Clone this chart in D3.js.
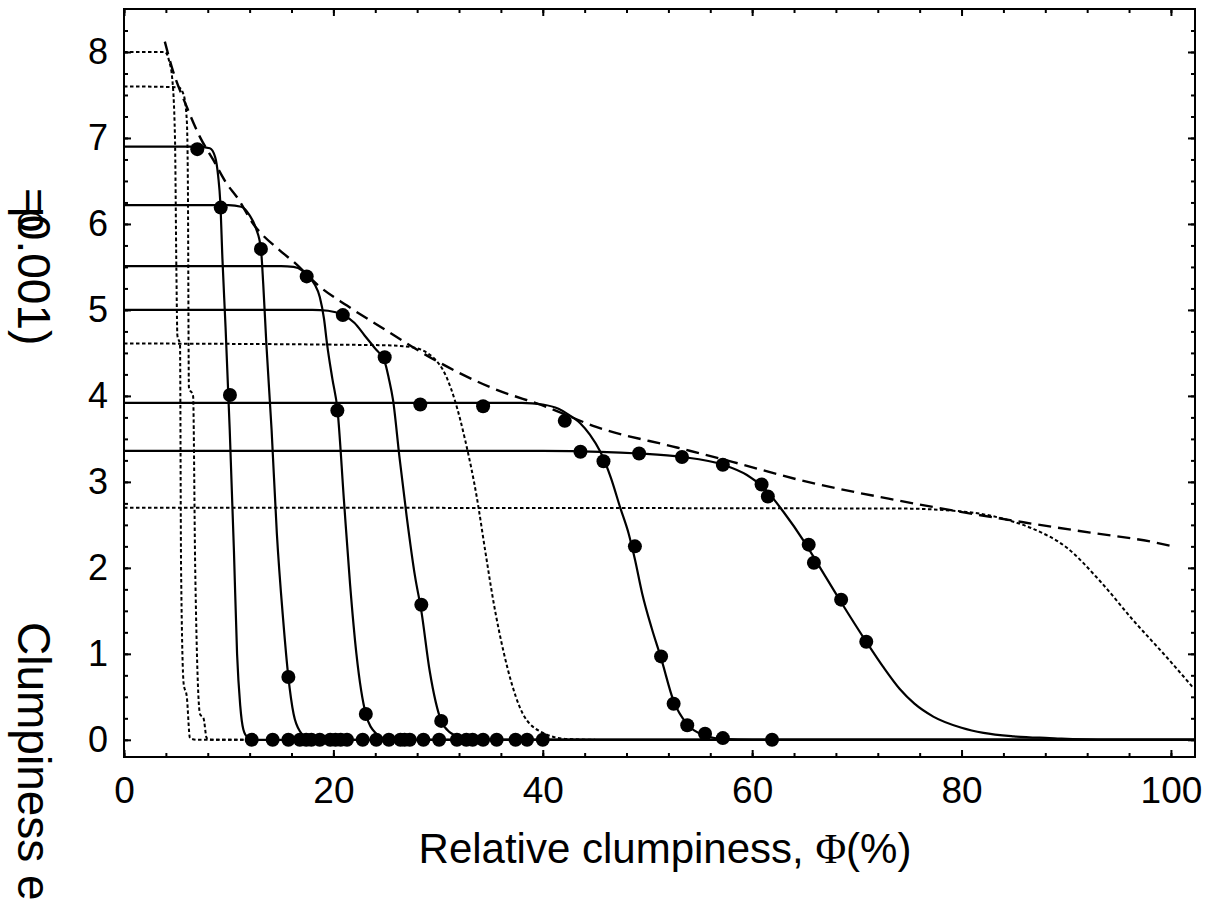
<!DOCTYPE html>
<html><head><meta charset="utf-8">
<script src="https://cdn.jsdelivr.net/npm/d3@7"></script>
<style>body{margin:0;background:#fff}</style>
</head><body>
<svg id="c" width="1220" height="905"></svg>
<script>
// ---------- data ----------
const xTickLabels = [0, 20, 40, 60, 80, 100];
const yTickLabels = [0, 1, 2, 3, 4, 5, 6, 7, 8];

// solid fitted curves
const fit1 = [[0,6.9],[7,6.9],[8.2,6.88],[8.7,6.78],[9.0,6.55],[9.2,6.25],[9.4,5.6],[9.7,4.8],[10.1,3.6],[10.5,2.2],[10.8,1.0],[11.1,0.4],[11.4,0.12],[11.8,0.03],[12.5,0],[102.3,0]];
const fit2 = [[0,6.22],[10,6.22],[11.2,6.2],[12.0,6.1],[12.6,5.95],[13.08,5.71],[13.3,5.3],[13.6,4.6],[14.1,3.6],[14.6,2.4],[15.2,1.4],[15.7,0.73],[16.2,0.3],[16.8,0.1],[17.6,0.02],[18.5,0],[102.3,0]];
const fit3 = [[0,5.51],[15,5.51],[16.2,5.5],[17.0,5.46],[17.5,5.4],[18.2,5.3],[18.7,5.15],[19.1,4.9],[19.4,4.6],[19.9,4.2],[20.4,3.83],[21.0,2.8],[21.6,1.8],[22.2,1.0],[23.1,0.3],[24.1,0.07],[25,0.01],[26,0],[102.3,0]];
const fit4 = [[0,5.0],[18,5.0],[19.5,4.99],[20.9,4.94],[22.0,4.85],[23,4.7],[24,4.55],[24.9,4.4],[25.3,4.2],[25.7,3.95],[26.3,3.3],[27.0,2.6],[27.8,1.9],[28.4,1.5],[29.2,0.8],[30.3,0.22],[31.2,0.08],[32.1,0.03],[33.5,0],[102.3,0]];
const fit5 = [[0,3.92],[38,3.92],[40,3.9],[41.5,3.85],[42.5,3.78],[43.6,3.68],[44.5,3.55],[45.5,3.35],[46.5,3.05],[47.4,2.7],[48.2,2.4],[48.8,2.1],[49.5,1.7],[50.4,1.3],[51.3,0.95],[52.5,0.45],[53.8,0.18],[55.5,0.05],[57.2,0.01],[60,0],[102.3,0]];
const fit6 = [[0,3.36],[40,3.36],[45.5,3.35],[49.2,3.33],[53.3,3.29],[57.2,3.2],[59.5,3.08],[61.2,2.92],[63,2.65],[65,2.3],[66.5,2.0],[68.5,1.6],[70.9,1.14],[72.5,0.85],[74.1,0.59],[75.5,0.42],[77.3,0.27],[80,0.14],[82.1,0.08],[85,0.04],[88.4,0.02],[93,0],[102.3,0]];

// dotted curves
const dotA = [[0,8.0],[3.9,8.0],[4.3,7.9],[4.6,7.7],[4.87,7.0],[5.0,5.5],[5.1,4.7],[5.35,4.6],[5.45,2.0],[5.7,0.65],[6.0,0.5],[6.3,0.02],[7,0],[12,0]];
const dotB = [[0,7.6],[5.2,7.59],[5.7,7.5],[6.0,7.2],[6.1,6.5],[6.2,4.1],[6.6,4.0],[6.8,2.0],[7.26,0.3],[7.6,0.25],[7.9,0.02],[8.5,0],[12,0]];
const dotC = [[0,4.61],[24.5,4.59],[27.3,4.57],[29.5,4.45],[30.8,4.22],[31.6,3.95],[32.6,3.48],[33.7,2.82],[34.5,2.2],[35.3,1.6],[36.3,1.0],[37.8,0.38],[39.7,0.1],[42.3,0.01],[45,0]];
const dotD = [[0,2.7],[74.1,2.69],[80.5,2.65],[84.6,2.55],[86.9,2.45],[90,2.24],[93.2,1.85],[96.4,1.39],[99.6,0.96],[102.1,0.61]];

// dashed envelope
const envelope = [[3.9,8.12],[4.55,7.83],[6.0,7.36],[7.26,7.01],[8.5,6.75],[9.8,6.47],[10.8,6.31],[12.35,6.0],[14.9,5.69],[16.2,5.56],[18.7,5.27],[21.3,5.05],[24.8,4.78],[29.5,4.43],[35,4.1],[40.4,3.87],[45.1,3.64],[52.8,3.4],[58.2,3.23],[64.6,3.02],[74.1,2.78],[85.9,2.53],[92.3,2.41],[98.3,2.3],[100.2,2.25]];

// observed points
const pointsX = [7.0,9.24,10.12,13.08,15.7,17.45,20.38,23.1,20.9,24.9,28.4,30.3,28.3,34.3,42.1,48.8,51.3,52.5,53.8,55.5,57.2,43.6,45.8,49.2,53.3,57.2,60.9,61.5,65.4,65.9,68.5,70.9];
const pointsY = [6.87,6.19,4.01,5.71,0.73,5.39,3.83,0.3,4.94,4.45,1.57,0.22,3.9,3.88,3.71,2.25,0.97,0.42,0.17,0.07,0.02,3.35,3.24,3.33,3.29,3.2,2.97,2.83,2.27,2.06,1.63,1.14];
const zeroPointsX = [12.2,14.2,15.7,16.8,17.4,17.9,18.7,19.7,20.2,20.7,21.3,22.8,24.1,25.3,26.4,26.8,27.3,28.6,30.1,31.8,32.7,33.3,34.3,35.6,37.4,38.5,40.0,61.9];

// ---------- drawing ----------
const svg = d3.select("#c");
const L = 124, R = 1195, T = 9, B = 757;
const x = d3.scaleLinear().domain([0, 102.3]).range([L, R]);
const y = d3.scaleLinear().domain([-0.2, 8.5]).range([B, T]);
const FONT = "Liberation Sans, Arial, sans-serif";

svg.append("defs").append("clipPath").attr("id","clip")
  .append("rect").attr("x",L).attr("y",T).attr("width",R-L).attr("height",B-T);

const g = svg.append("g").attr("clip-path","url(#clip)");
const line = d3.line().x(d=>x(d[0])).y(d=>y(d[1])).curve(d3.curveMonotoneX);

[dotA, dotB, dotC, dotD].forEach(s => g.append("path").attr("d", line(s))
  .attr("fill","none").attr("stroke","#000").attr("stroke-width",2).attr("stroke-dasharray","3.5,2.5"));
[fit1, fit2, fit3, fit4, fit5, fit6].forEach(s => g.append("path").attr("d", line(s))
  .attr("fill","none").attr("stroke","#000").attr("stroke-width",2.2));
g.append("path").attr("d", line(envelope)).attr("fill","none").attr("stroke","#000")
  .attr("stroke-width",2.4).attr("stroke-dasharray","13,7");

const pts = pointsX.map((v,i)=>[v, pointsY[i]]).concat(zeroPointsX.map(v=>[v,0]));
g.selectAll("circle.p").data(pts).enter().append("circle")
  .attr("cx",d=>x(d[0])).attr("cy",d=>y(d[1])).attr("r",7).attr("fill","#000");

// axes: ticks inward on all four sides
const xMinor = d3.range(0, 101, 4), yMinor = d3.range(0, 8.3, 0.25);
function ticks(axisFn, scale, vals, size, tr){
  svg.append("g").attr("transform",tr)
    .call(axisFn(scale).tickValues(vals).tickSize(size).tickFormat("").tickSizeOuter(0))
    .call(a=>{a.select(".domain").remove(); a.selectAll("line").attr("stroke-width",2);});
}
ticks(d3.axisBottom, x, xMinor, -4, `translate(0,${B})`);
ticks(d3.axisBottom, x, xTickLabels, -7, `translate(0,${B})`);
ticks(d3.axisTop, x, xMinor, -4, `translate(0,${T})`);
ticks(d3.axisTop, x, xTickLabels, -7, `translate(0,${T})`);
ticks(d3.axisLeft, y, yMinor, -4, `translate(${L},0)`);
ticks(d3.axisLeft, y, yTickLabels, -7, `translate(${L},0)`);
ticks(d3.axisRight, y, yMinor, -4, `translate(${R},0)`);
ticks(d3.axisRight, y, yTickLabels, -7, `translate(${R},0)`);

svg.append("rect").attr("x",L).attr("y",T).attr("width",R-L).attr("height",B-T)
  .attr("fill","none").attr("stroke","#000").attr("stroke-width",2);

// labels
const xl = svg.append("g").attr("transform",`translate(0,${B})`)
  .call(d3.axisBottom(x).tickValues(xTickLabels).tickSize(0).tickPadding(20).tickFormat(d3.format("d")));
xl.select(".domain").remove();
xl.selectAll("text").attr("font-family",FONT).attr("font-size",37).attr("fill","#000");

const yl = svg.append("g").attr("transform",`translate(${L},0)`)
  .call(d3.axisLeft(y).tickValues(yTickLabels).tickSize(0).tickPadding(16).tickFormat(d3.format("d")));
yl.select(".domain").remove();
yl.selectAll("text").attr("font-family",FONT).attr("font-size",36).attr("fill","#000");

const xt = svg.append("text").attr("x",665).attr("y",863).attr("text-anchor","middle")
  .attr("font-family",FONT).attr("font-size",42).attr("fill","#000");
xt.append("tspan").text("Relative clumpiness, ");
xt.append("tspan").attr("font-family","Liberation Serif, Times New Roman, serif").text("Φ");
xt.append("tspan").text("(%)");

svg.append("text").attr("transform","translate(18,622) rotate(90)")
  .attr("font-family",FONT).attr("font-size",46).attr("fill","#000").text("Clumpiness e");
svg.append("text").attr("transform","translate(18,188) rotate(90)")
  .attr("font-family",FONT).attr("font-size",46).attr("fill","#000").text("=0.001)");
svg.append("text").attr("transform","translate(18,207) rotate(90)")
  .attr("font-family",FONT).attr("font-size",46).attr("fill","#000").text("p");
</script>
</body></html>
